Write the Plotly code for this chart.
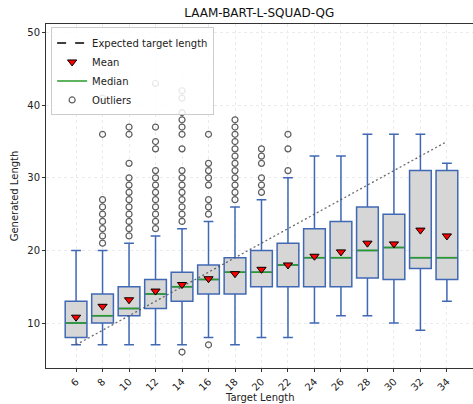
import plotly.graph_objects as go

targets = [6, 8, 10, 12, 14, 16, 18, 20, 22, 24, 26, 28, 30, 32, 34]
q1 = [8, 10, 11, 12, 13, 14, 14, 15, 15, 15, 15, 16.2, 16, 17.5, 16]
median = [10, 11, 12, 14, 15, 16, 17, 17, 18, 19, 19, 20, 20.4, 19, 19]
q3 = [13, 14, 15, 16, 17, 18, 19, 20, 21, 23, 24, 26, 25, 31, 31]
lower = [7, 7, 7, 7, 7, 8, 7, 8, 8, 10, 11, 11, 10, 9, 13]
upper = [20, 20, 21, 22, 23, 24, 26, 27, 30, 33, 33, 36, 36, 36, 32]
mean = [10.8, 12.3, 13.2, 14.4, 15.3, 16.1, 16.8, 17.4, 18.0, 19.2, 19.8, 21.0, 20.9, 22.8, 22.0]
expected = [7, 9, 11, 13, 15, 17, 19, 21, 23, 25, 27, 29, 31, 33, 35]

outliers = {
    8: [21, 22, 23, 24, 25, 26, 27, 36, 41],
    10: [22, 23, 24, 25, 26, 27, 28, 29, 30, 32, 36, 37],
    12: [23, 24, 25, 26, 27, 28, 29, 30, 31, 34, 35, 37, 43],
    14: [6, 24, 25, 26, 27, 28, 29, 30, 31, 34, 36, 37, 38, 39, 41, 42],
    16: [7, 25, 26, 27, 29, 30, 31, 32, 36],
    18: [27, 28, 29, 30, 31, 32, 33, 34, 35, 36, 37, 38],
    20: [28, 29, 30, 32, 33, 34],
    22: [31, 34, 36],
}

FONT = "DejaVu Sans"
BOX_W = 1.64
MED_HALF = BOX_W / 2 * 0.92

fig = go.Figure()

fig.add_trace(go.Box(
    x=targets, q1=q1, median=median, q3=q3,
    lowerfence=lower, upperfence=upper,
    width=BOX_W, whiskerwidth=0.45,
    fillcolor="#d6d6d6",
    line=dict(color="#4068b4", width=1.5),
    boxpoints=False, showlegend=False, hoverinfo="skip",
))

# expected line (plotted dotted) + legend stand-in (dashed black)
fig.add_trace(go.Scatter(
    x=targets, y=expected, mode="lines",
    line=dict(color="rgba(80,80,80,0.85)", width=1.3, dash="2px,2.5px"),
    showlegend=False, hoverinfo="skip",
))
fig.add_trace(go.Scatter(
    x=[None], y=[None], mode="lines", name="Expected target length",
    line=dict(color="black", width=1.5, dash="dash"), legendrank=1,
))

mx, my = [], []
for t, m in zip(targets, median):
    mx += [t - MED_HALF, t + MED_HALF, None]
    my += [m, m, None]
fig.add_trace(go.Scatter(
    x=mx, y=my, mode="lines", name="Median",
    line=dict(color="#2a9a2a", width=1.6), legendrank=3,
))

ox, oy = [], []
for t, vals in outliers.items():
    ox += [t] * len(vals)
    oy += vals
fig.add_trace(go.Scatter(
    x=ox, y=oy, mode="markers", name="Outliers",
    marker=dict(symbol="circle-open", size=6, color="rgba(40,40,40,0.75)",
                line=dict(width=1.2)), legendrank=4,
))

fig.add_trace(go.Scatter(
    x=targets, y=mean, mode="markers", name="Mean",
    marker=dict(symbol="triangle-down", size=8, color="red",
                line=dict(color="black", width=1)), legendrank=2,
))

fig.update_layout(
    width=473, height=404,
    margin=dict(l=46, r=0, t=24, b=36),
    paper_bgcolor="white", plot_bgcolor="white",
    font=dict(family=FONT, size=10, color="#222"),
    title=dict(text="LAAM-BART-L-SQUAD-QG", x=0.548, xanchor="center",
               y=0.968, yanchor="middle", font=dict(size=12, color="#111")),
    legend=dict(x=0.012, y=0.99, xanchor="left", yanchor="top",
                bgcolor="rgba(255,255,255,0.85)", bordercolor="#cccccc",
                borderwidth=1, font=dict(size=10), traceorder="normal",
                itemwidth=30, tracegroupgap=0),
    annotations=[dict(text="Target Length", xref="paper", yref="paper",
                      x=0.5, y=-0.086, xanchor="center", yanchor="middle",
                      showarrow=False, font=dict(size=10, color="#222"))],
)

fig.update_xaxes(
    range=[3.73, 35.97], tickvals=targets, ticktext=[str(t) for t in targets],
    tickangle=-45, ticks="outside", ticklen=3, tickcolor="#333",
    tickfont=dict(size=10),
    showline=True, linecolor="#333", linewidth=1, mirror=True,
    showgrid=True, gridcolor="#ebebeb", griddash="dot", gridwidth=1,
    zeroline=False, automargin=False,
)
fig.update_yaxes(
    range=[3.8, 51.2], tickvals=[10, 20, 30, 40, 50],
    ticks="outside", ticklen=3, tickcolor="#333",
    showline=True, linecolor="#333", linewidth=1, mirror=True,
    showgrid=True, gridcolor="#ebebeb", griddash="dot", gridwidth=1,
    zeroline=False, automargin=False,
    title=dict(text="Generated Length", font=dict(size=10), standoff=6),
)

fig.write_html("out.html", config={"displayModeBar": False},
               post_script="document.body.style.margin='0';")
